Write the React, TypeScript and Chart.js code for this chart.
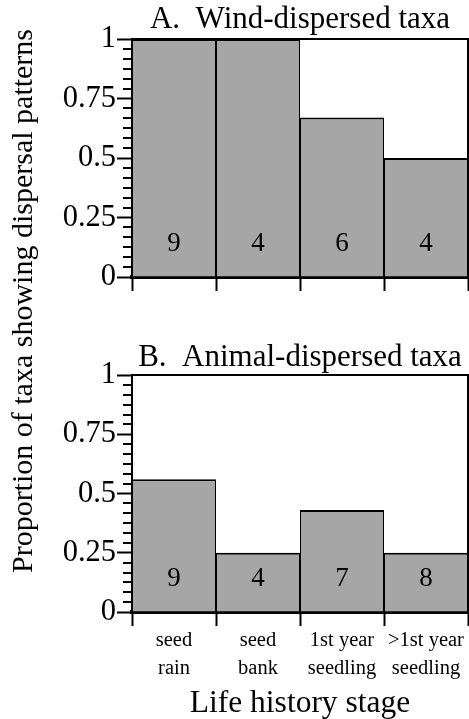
import React, { useEffect, useRef } from 'react';
import { Chart, registerables } from 'chart.js';

Chart.register(...registerables);

// ---- data ----
const stages: string[][] = [
  ['seed', 'rain'],
  ['seed', 'bank'],
  ['1st year', 'seedling'],
  ['>1st year', 'seedling'],
];
const windProportion = [1, 1, 0.67, 0.5];
const windCounts = [9, 4, 6, 4];
const animalProportion = [0.56, 0.25, 0.43, 0.25];
const animalCounts = [9, 4, 7, 8];
const yMajorStep = 0.25;
const minorPerMajor = 6;
const countLabelValue = 0.14;

const SERIF = '"Liberation Serif", "Times New Roman", Times, serif';
const BAR_FILL = '#a6a6a6';

const W = 469;
const H_A = 300;
const H_B = 419;

const minorTicksPlugin = {
  id: 'minorTicks',
  afterDraw(chart: any) {
    const y = chart.scales.y;
    const ctx = chart.ctx;
    ctx.save();
    ctx.strokeStyle = '#000';
    ctx.lineWidth = 2;
    const step = yMajorStep / minorPerMajor;
    const n = Math.round((y.max - y.min) / step);
    for (let i = 1; i < n; i++) {
      if (i % minorPerMajor === 0) continue;
      const py = Math.round(y.getPixelForValue(y.min + i * step));
      ctx.beginPath();
      ctx.moveTo(y.right - 9, py);
      ctx.lineTo(y.right, py);
      ctx.stroke();
    }
    ctx.restore();
  },
};

const framePlugin = {
  id: 'frame',
  afterDraw(chart: any) {
    const { ctx, chartArea } = chart;
    ctx.save();
    ctx.strokeStyle = '#000';
    ctx.lineWidth = 2;
    ctx.beginPath();
    ctx.moveTo(chartArea.left, chartArea.top);
    ctx.lineTo(chartArea.right, chartArea.top);
    ctx.lineTo(chartArea.right, chartArea.bottom);
    ctx.stroke();
    ctx.restore();
  },
};

const countLabelsPlugin = {
  id: 'countLabels',
  afterDatasetsDraw(chart: any, _args: any, opts: any) {
    const counts: number[] = opts.counts || [];
    const meta = chart.getDatasetMeta(0);
    const y = chart.scales.y;
    const ctx = chart.ctx;
    ctx.save();
    ctx.fillStyle = '#000';
    ctx.font = `27px ${SERIF}`;
    ctx.textAlign = 'center';
    ctx.textBaseline = 'middle';
    meta.data.forEach((bar: any, i: number) => {
      ctx.fillText(String(counts[i]), bar.x, y.getPixelForValue(countLabelValue));
    });
    ctx.restore();
  },
};

function makeConfig(
  title: string,
  values: number[],
  counts: number[],
  showLabels: boolean,
  titlePad: { top: number; bottom: number },
  xHeight: number
): any {
  return {
    type: 'bar',
    data: {
      labels: stages,
      datasets: [
        {
          data: values,
          backgroundColor: BAR_FILL,
          borderColor: '#000',
          borderWidth: { top: 2, left: 1, right: 1, bottom: 0 },
          borderSkipped: false,
          barPercentage: 1,
          categoryPercentage: 1,
          inflateAmount: 0,
        },
      ],
    },
    options: {
      responsive: false,
      animation: false,
      devicePixelRatio: 1,
      layout: { padding: { left: 0, right: 1, top: 0, bottom: 0 } },
      plugins: {
        legend: { display: false },
        tooltip: { enabled: false },
        title: {
          display: true,
          text: title,
          fullSize: false,
          color: '#000',
          font: { family: SERIF, size: 31, weight: 'normal', lineHeight: 1 },
          padding: titlePad,
        },
        countLabels: { counts },
      },
      scales: {
        x: {
          z: 1,
          grid: {
            display: true,
            offset: true,
            drawOnChartArea: false,
            drawTicks: true,
            tickLength: 14,
            tickWidth: 2,
            tickColor: '#000',
          },
          border: { display: true, color: '#000', width: 4 },
          ticks: {
            display: showLabels,
            color: '#000',
            autoSkip: false,
            maxRotation: 0,
            minRotation: 0,
            padding: 0,
            font: { family: SERIF, size: 20.5, lineHeight: 1.4 },
          },
          title: {
            display: showLabels,
            text: 'Life history stage',
            color: '#000',
            font: { family: SERIF, size: 31.5, lineHeight: 1 },
            padding: { top: 0, bottom: 0 },
          },
          afterFit: (s: any) => {
            s.height = xHeight;
          },
        },
        y: {
          z: 1,
          min: 0,
          max: 1,
          grid: {
            display: true,
            drawOnChartArea: false,
            drawTicks: true,
            tickLength: 15,
            tickWidth: 2,
            tickColor: '#000',
          },
          border: { display: true, color: '#000', width: 2 },
          ticks: {
            stepSize: yMajorStep,
            color: '#000',
            padding: 1,
            font: { family: SERIF, size: 30.5 },
            callback: (v: any) => String(v),
          },
          afterFit: (s: any) => {
            s.width = 132;
          },
        },
      },
    },
    plugins: [minorTicksPlugin, framePlugin, countLabelsPlugin],
  };
}

export default function App() {
  const refA = useRef<HTMLCanvasElement | null>(null);
  const refB = useRef<HTMLCanvasElement | null>(null);

  useEffect(() => {
    if (!refA.current || !refB.current) return;
    const a = new Chart(
      refA.current,
      makeConfig('A.  Wind-dispersed taxa', windProportion, windCounts, false, { top: 4, bottom: 4 }, H_A - 277)
    );
    const b = new Chart(
      refB.current,
      makeConfig('B.  Animal-dispersed taxa', animalProportion, animalCounts, true, { top: 42, bottom: 2 }, H_B - 312)
    );
    return () => {
      a.destroy();
      b.destroy();
    };
  }, []);

  return (
    <div
      style={{
        position: 'absolute',
        left: 0,
        top: 0,
        width: W,
        height: 719,
        overflow: 'hidden',
        background: '#fff',
      }}
    >
      <canvas ref={refA} width={W} height={H_A} style={{ position: 'absolute', left: 0, top: 0 }} />
      <canvas ref={refB} width={W} height={H_B} style={{ position: 'absolute', left: 0, top: H_A }} />
      <div
        style={{
          position: 'absolute',
          left: 22 - 300,
          top: 301 - 15,
          width: 600,
          height: 30,
          lineHeight: '30px',
          fontSize: 30,
          fontFamily: SERIF,
          color: '#000',
          textAlign: 'center',
          whiteSpace: 'nowrap',
          transform: 'rotate(-90deg)',
        }}
      >
        Proportion of taxa showing dispersal patterns
      </div>
    </div>
  );
}
